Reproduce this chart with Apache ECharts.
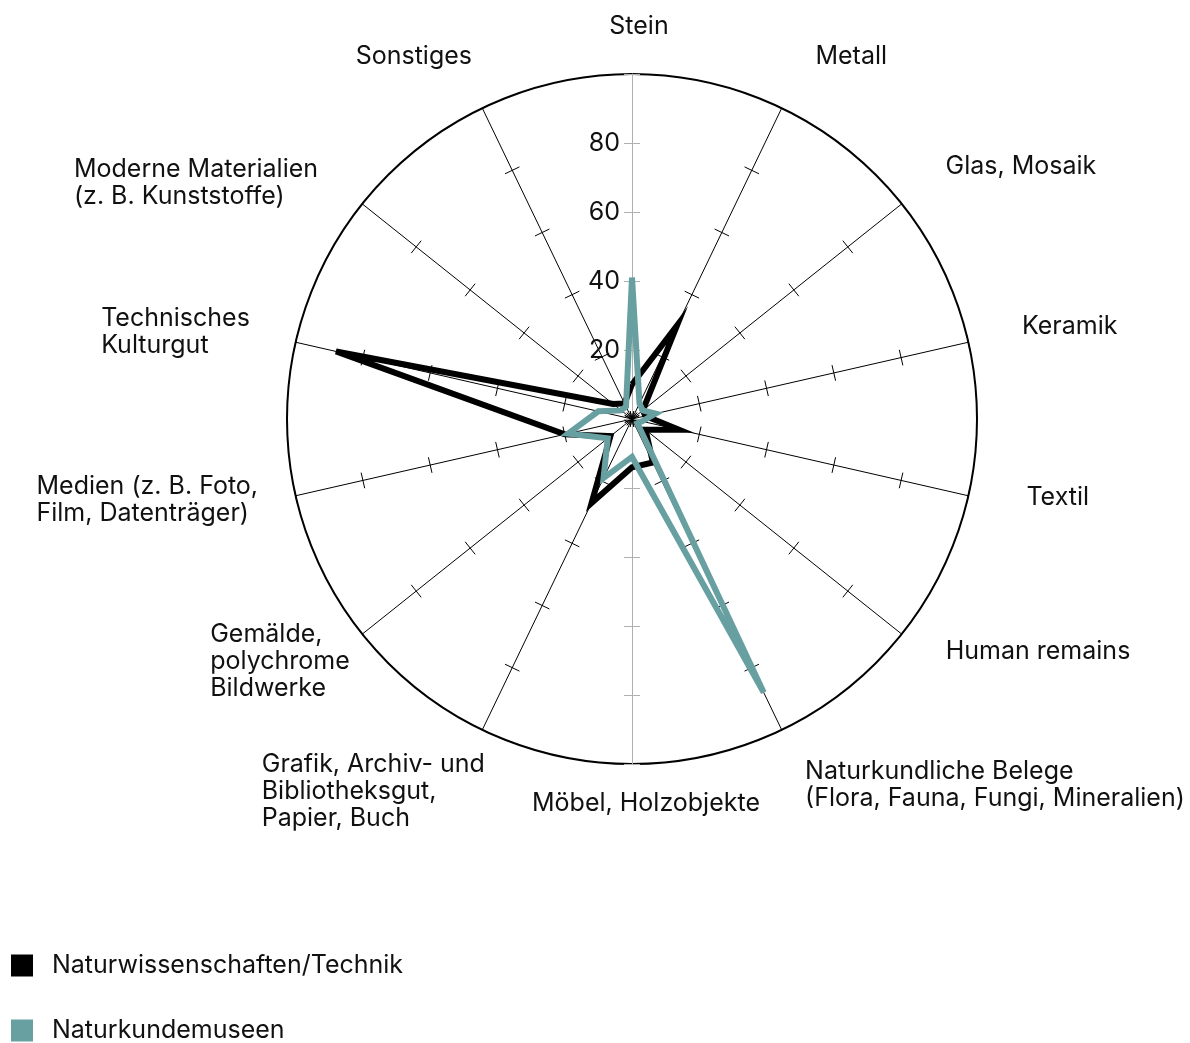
<!DOCTYPE html>
<html>
<head>
<meta charset="utf-8">
<script src="https://cdn.jsdelivr.net/npm/echarts@6/dist/echarts.min.js"></script>
<style>
  html, body { margin: 0; padding: 0; background: #fff; }
  #chart { width: 1190px; height: 1043px; }
</style>
</head>
<body>
<div id="chart"></div>
<script>
// categories, clockwise from the top
var categories = [
  'Stein',
  'Metall',
  'Glas, Mosaik',
  'Keramik',
  'Textil',
  'Human remains',
  'Naturkundliche Belege\n(Flora, Fauna, Fungi, Mineralien)',
  'Möbel, Holzobjekte',
  'Grafik, Archiv- und\nBibliotheksgut,\nPapier, Buch',
  'Gemälde,\npolychrome\nBildwerke',
  'Medien (z. B. Foto,\nFilm, Datenträger)',
  'Technisches\nKulturgut',
  'Moderne Materialien\n(z. B. Kunststoffe)',
  'Sonstiges'
];
var seriesNames = ['Naturwissenschaften/Technik', 'Naturkundemuseen'];
var technikValues = [10, 30, 4, 4, 14, 5, 14, 14, 27, 8, 20, 88, 7, 5];
var naturkundeValues = [41, 5, 4, 7, 3, 2, 88, 11, 19, 9, 19, 10, 4, 4];
var tickLabels = [20, 40, 60, 80];
var maxValue = 100;

// label placement only (gap from the circle, padding [t, r, b, l])
var nameGaps = [34, 57, 56, 55, 56.5, 46, 54, 26, -6, 16, 38.6, 47, 33.5, 23.7];
var namePads = [
  [0, 0, 0, 14], [0, 0, 0, 9], [0, 0, 4, 0], [0, 0, 8, 0], [0, 0, 22, 3], [0, 0, 22, 8],
  [13, 0, 0, 0], [0, 0, 0, 28], [135, 0, 0, 0], [34, 0, 0, 0], [0, 0, 9, 0], [0, 0, 0, 0],
  [0, 18, 0, 0], [0, 0, 60, 0]
];
var grayAxes = [0, 7];
var FONT = 'Inter';
var FS = 25;
var TEAL = '#68a0a2';

// echarts places indicators counter-clockwise, so flip the order
var order = [0];
for (var i = categories.length - 1; i >= 1; i--) order.push(i);
function reorder(arr) { return order.map(function (k) { return arr[k]; }); }

function axisColor(k) { return grayAxes.indexOf(k) >= 0 ? '#b0b0b0' : '#000'; }

function buildIndicators(main) {
  return order.map(function (k) {
    var ind = {
      name: categories[k],
      max: maxValue,
      min: 0,
      axisLine: { lineStyle: { color: axisColor(k) } },
      axisTick: { lineStyle: { color: axisColor(k) } }
    };
    if (main) {
      ind.nameGap = nameGaps[k];
      ind.nameTextStyle = { padding: namePads[k] };
      if (k === 0) ind.axisLabel = { show: true };
    }
    return ind;
  });
}

var chart = echarts.init(document.getElementById('chart'));

chart.setOption({
  backgroundColor: '#fff',
  animation: false,
  legend: {
    orient: 'vertical',
    left: 11,
    bottom: 0,
    padding: 0,
    icon: 'rect',
    itemWidth: 22,
    itemHeight: 22,
    itemGap: 40,
    data: seriesNames,
    textStyle: { fontFamily: FONT, fontSize: FS, lineHeight: 22, color: '#111', padding: [0, 0, 0, 14] }
  },
  radar: [{
    center: [632, 419],
    radius: 345,
    shape: 'circle',
    splitNumber: 5,
    indicator: buildIndicators(true),
    axisName: {
      color: '#111',
      fontFamily: FONT,
      fontSize: FS,
      lineHeight: 27,
      formatter: function (name) {
        return name.split('\n').map(function (l) { return '{l|' + l + '}'; }).join('\n');
      },
      rich: { l: { align: 'left', color: '#111', fontFamily: FONT, fontSize: FS, lineHeight: 27 } }
    },
    axisLine: { show: true, lineStyle: { width: 1 } },
    axisTick: { show: true, length: 8, lineStyle: { width: 1 } },
    axisLabel: {
      show: false,
      color: '#111',
      fontFamily: FONT,
      fontSize: FS,
      margin: 12,
      formatter: function (v) { return tickLabels.indexOf(v) >= 0 ? String(v) : ''; }
    },
    splitLine: {
      show: true,
      lineStyle: { width: 2, color: ['transparent', 'transparent', 'transparent', 'transparent', 'transparent', '#000'] }
    },
    splitArea: { show: false }
  }, {
    center: [632, 419],
    radius: 345,
    shape: 'circle',
    splitNumber: 5,
    indicator: buildIndicators(false),
    axisName: { show: false },
    axisLine: { show: false },
    axisTick: { show: true, length: -8, lineStyle: { width: 1 } },
    axisLabel: { show: false },
    splitLine: { show: false },
    splitArea: { show: false }
  }],
  series: [{
    type: 'radar',
    radarIndex: 0,
    name: seriesNames[0],
    symbol: 'none',
    itemStyle: { color: '#000' },
    lineStyle: { color: '#000', width: 6, join: 'miter' },
    data: [{ name: seriesNames[0], value: reorder(technikValues) }]
  }, {
    type: 'radar',
    radarIndex: 0,
    name: seriesNames[1],
    symbol: 'none',
    itemStyle: { color: TEAL },
    lineStyle: { color: TEAL, width: 6, join: 'miter' },
    data: [{ name: seriesNames[1], value: reorder(naturkundeValues) }]
  }]
});
</script>
</body>
</html>
